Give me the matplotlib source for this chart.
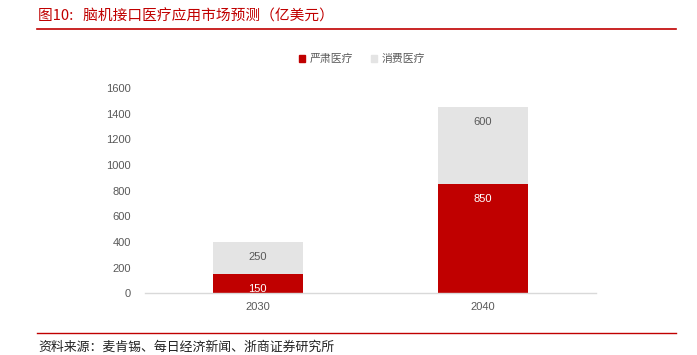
import matplotlib
matplotlib.use("Agg")
import matplotlib.pyplot as plt
from matplotlib.lines import Line2D
from matplotlib.patches import Patch

plt.rcParams['font.family'] = ['Liberation Sans', 'Noto Sans CJK SC', 'DejaVu Sans']

categories = ["2030", "2040"]
serious = [150, 850]
consumer = [250, 600]
series_names = ["严肃医疗", "消费医疗"]
yticks = [0, 200, 400, 600, 800, 1000, 1200, 1400, 1600]
title = "图10:   脑机接口医疗应用市场预测（亿美元）"
source = "资料来源：麦肯锡、每日经济新闻、浙商证券研究所"

RED = "#C00000"
GREY = "#E4E4E4"
TXT = "#595959"

fig = plt.figure(figsize=(6.97, 3.55), dpi=100)
ax = fig.add_axes([145/697, 1 - 293.3/355, (595.7-145)/697, (293.3-88)/355])

x = list(range(len(categories)))
b1 = ax.bar(x, serious, width=0.4, color=RED, zorder=2)
b2 = ax.bar(x, consumer, width=0.4, bottom=serious, color=GREY, zorder=2)

for i in x:
    ax.annotate(str(serious[i]), (i, serious[i]), xytext=(0, -10.8), textcoords="offset points",
                ha="center", va="center", color="white", fontsize=8)
    ax.annotate(str(consumer[i]), (i, serious[i] + consumer[i]), xytext=(0, -10.8), textcoords="offset points",
                ha="center", va="center", color=TXT, fontsize=8)

ax.set_xlim(-0.5, 1.5)
ax.set_ylim(0, 1600)
ax.set_yticks(yticks)
ax.set_yticklabels([str(v) for v in yticks])
ax.set_xticks(x)
ax.set_xticklabels(categories)
ax.tick_params(axis="both", length=0, labelsize=8, labelcolor=TXT)
ax.tick_params(axis="y", pad=10)
ax.tick_params(axis="x", pad=6)
for s in ["top", "right", "left"]:
    ax.spines[s].set_visible(False)
ax.spines["bottom"].set_color("#D9D9D9")
ax.spines["bottom"].set_linewidth(1)

handles = [Patch(color=RED), Patch(color=GREY)]
fig.legend(handles, series_names, loc="center", bbox_to_anchor=(362/697, 1 - 59/355),
           ncol=2, frameon=False, handlelength=0.6, handleheight=0.6,
           handletextpad=0.4, columnspacing=1.6, labelcolor=TXT,
           prop={'family': ['Noto Sans CJK SC'], 'size': 7.8})

fig.text(38/697, 1 - 16/355, title, ha="left", va="center", color=RED, fontsize=10.6,
         family=['Noto Sans CJK SC', 'DejaVu Sans'])
fig.add_artist(Line2D([37/697, 676/697], [1 - 29/355, 1 - 29/355], color=RED, lw=1.2,
                      transform=fig.transFigure))
fig.add_artist(Line2D([37/697, 676/697], [1 - 333.3/355, 1 - 333.3/355], color=RED, lw=1.0,
                      transform=fig.transFigure))
fig.text(38/697, 1 - 347/355, source, ha="left", va="center", color="#222222", fontsize=9.3,
         family=['Noto Sans CJK SC', 'DejaVu Sans'])

fig.savefig("out.png", dpi=100)
